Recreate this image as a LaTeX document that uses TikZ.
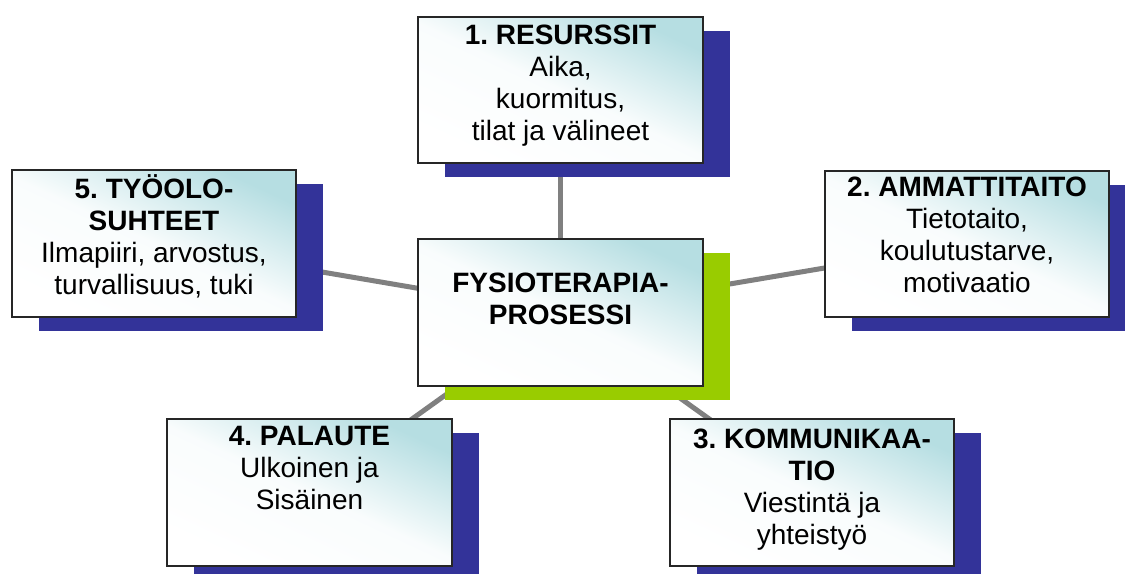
\documentclass[tikz,border=0pt]{standalone}
\usepackage{fontspec}
\setmainfont{Liberation Sans}
\usetikzlibrary{positioning,shadows,backgrounds}
\frenchspacing

\definecolor{shadowblue}{RGB}{51,51,153}
\definecolor{hubgreen}{RGB}{153,204,0}
\definecolor{boxteal}{RGB}{182,222,226}
\definecolor{linkgray}{RGB}{128,128,128}

\tikzset{
    panel/.style={draw=black!85, line width=1.5pt,
        minimum width=213.5pt, minimum height=110pt,
        bottom color=white, top color=boxteal, middle color=boxteal!8!white,
        shading angle=-25},
    topic/.style={panel, general shadow={shadow xshift=20.25pt,
        shadow yshift=-10.5pt, fill=shadowblue}},
    hub/.style={panel, general shadow={shadow xshift=20.25pt,
        shadow yshift=-10.5pt, fill=hubgreen}},
    txt/.style={align=center, font=\fontsize{21}{24}\selectfont, inner sep=2pt},
    link/.style={draw=linkgray, line width=3.75pt}
}

\begin{document}
\begin{tikzpicture}[x=0.75pt, y=-0.75pt]
    \useasboundingbox (0,0) rectangle (1125,574);

    % boxes
    \node[topic] (res) at (560.5,90) {};
    \node[hub] (fys) at (560.5,312.5) {};
    \node[topic] (tyo) at (154,243.5) {};
    \node[topic] (amm) at (967,244) {};
    \node[topic] (pal) at (309.5,492.5) {};
    \node[topic] (kom) at (812,492.5) {};

    % texts
    \node[txt, below=5pt of res.north] (res-t)
        {\textbf{1. RESURSSIT}\\Aika,\\kuormitus,\\tilat ja välineet};
    \node[txt, below=24pt of fys.north] (fys-t)
        {\textbf{FYSIOTERAPIA-}\\\textbf{PROSESSI}};
    \node[txt, below=2pt of tyo.north] (tyo-t)
        {\textbf{5. TYÖOLO-}\\\textbf{SUHTEET}\\Ilmapiiri, arvostus,\\turvallisuus, tuki};
    \node[txt, below=3pt of amm.north] (amm-t)
        {\textbf{2. AMMATTITAITO}\\Tietotaito,\\koulutustarve,\\motivaatio};
    \node[txt, below=4pt of pal.north] (pal-t)
        {\textbf{4. PALAUTE}\\Ulkoinen ja\\Sisäinen};
    \node[txt, below=6pt of kom.north] (kom-t)
        {\textbf{3. KOMMUNIKAA-}\\\textbf{TIO}\\Viestintä ja\\yhteistyö};

    % connectors
    \begin{scope}[on background layer]
        \draw[link] (fys.center) -- (res.center);
        \draw[link] (fys.center) -- (tyo.center);
        \draw[link] (fys.center) -- (amm.center);
        \draw[link] (fys.center) -- (pal.center);
        \draw[link] (fys.center) -- (kom.center);
    \end{scope}
\end{tikzpicture}
\end{document}
